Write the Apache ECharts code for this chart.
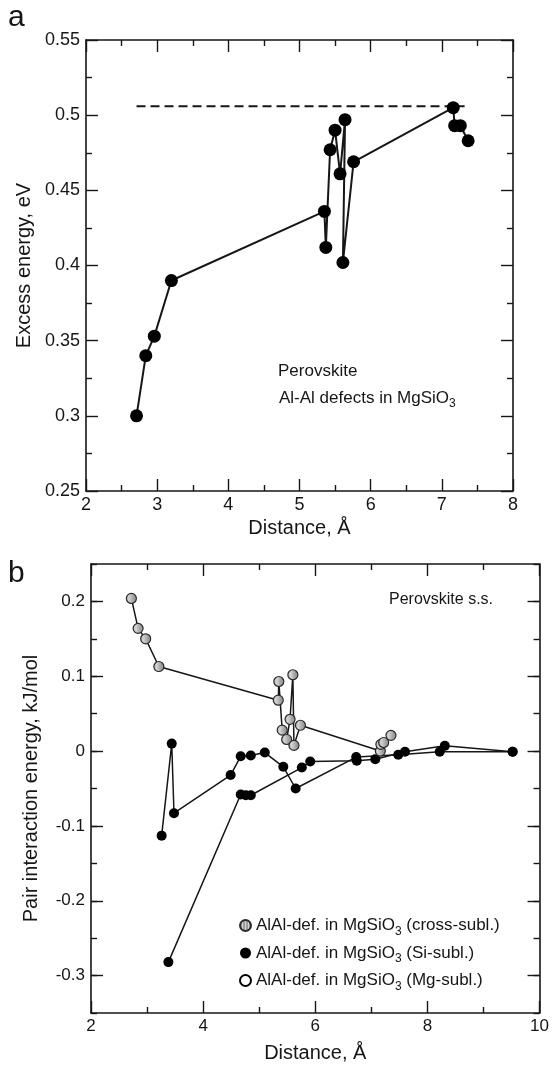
<!DOCTYPE html>
<html>
<head>
<meta charset="utf-8">
<script src="https://cdn.jsdelivr.net/npm/echarts@6/dist/echarts.min.js"></script>
<style>
  html, body { margin: 0; padding: 0; background: #fff; }
  #chart { width: 552px; height: 1070px; }
</style>
</head>
<body>
<div id="chart"></div>
<script>
// ---- Panel a: excess energy of Al-Al defect pairs vs. separation ----
const distA   = [2.71, 2.84, 2.96, 3.20, 5.35, 5.37, 5.43, 5.50, 5.57, 5.64, 5.61, 5.76, 7.16, 7.18, 7.26, 7.37];
const energyA = [0.300, 0.340, 0.353, 0.390, 0.436, 0.412, 0.477, 0.490, 0.461, 0.497, 0.402, 0.469, 0.505, 0.493, 0.493, 0.483];
// dashed level (random-distribution limit)
const levelX = [2.71, 7.32];
const levelY = 0.506;

// ---- Panel b: pair interaction energies ----
const crossDist = [2.72, 2.84, 2.975, 3.21, 5.34, 5.35, 5.41, 5.49, 5.55, 5.60, 5.62, 5.735, 7.16, 7.17, 7.22, 7.35];
const crossE    = [0.204, 0.164, 0.150, 0.113, 0.068, 0.093, 0.028, 0.0155, 0.0425, 0.102, 0.0076, 0.0345, 0.000, 0.009, 0.0115, 0.021];

const siDist1 = [3.26, 3.44, 3.48, 4.49, 4.67, 4.85, 5.10, 5.43, 5.65, 6.73, 7.48, 8.22, 9.52];
const siE1    = [-0.113, 0.010, -0.083, -0.032, -0.007, -0.006, -0.002, -0.021, -0.050, -0.008, -0.005, -0.001, -0.001];
const siDist2 = [3.38, 4.67, 4.76, 4.85, 5.76, 5.91, 6.74, 7.07, 7.60, 8.31, 9.52];
const siE2    = [-0.282, -0.058, -0.059, -0.059, -0.022, -0.014, -0.013, -0.011, -0.001, 0.007, -0.001];

const yTicksB = [-0.3, -0.2, -0.1, 0, 0.1, 0.2];

const seriesNames = [
  ['AlAl-def. in MgSiO', '3', ' (cross-subl.)'],
  ['AlAl-def. in MgSiO', '3', ' (Si-subl.)'],
  ['AlAl-def. in MgSiO', '3', ' (Mg-subl.)']
];
const fullName = n => n.join('');

const FONT = '"Liberation Sans", Arial, Helvetica, sans-serif';
const INK = '#161616';

const zip = (xs, ys) => xs.map((x, i) => [x, ys[i]]);

// vertical-hatch fill for the cross-sublattice markers
function hatchPattern() {
  const c = document.createElement('canvas');
  c.width = 3; c.height = 3;
  const g = c.getContext('2d');
  g.fillStyle = '#9c9c9c'; g.fillRect(0, 0, 3, 3);
  g.fillStyle = '#d4d4d4'; g.fillRect(2, 0, 1, 3);
  return { image: c, repeat: 'repeat' };
}

function axis(o) {
  return {
    type: 'value',
    gridIndex: o.grid,
    position: o.position,
    min: o.min, max: o.max, interval: o.interval,
    splitLine: { show: false },
    minorSplitLine: { show: false },
    axisLine: { show: o.line !== false, onZero: false, lineStyle: { color: INK, width: 1.6 } },
    axisTick: Object.assign({ show: true, inside: true, length: o.tickLen || 12, lineStyle: { color: INK, width: 1.4 } },
      o.tickValues ? { customValues: o.tickValues } : {}),
    minorTick: { show: !!o.minor, splitNumber: o.minor || 2, length: 6, lineStyle: { color: INK, width: 1.4 } },
    axisLabel: Object.assign({ show: !!o.labels, color: INK, fontFamily: FONT, fontSize: o.fontSize || 18, margin: o.margin || 6 },
      o.labelValues ? { customValues: o.labelValues } : {}),
    name: o.name || '',
    nameLocation: 'middle',
    nameGap: o.nameGap || 30,
    nameTextStyle: { color: INK, fontFamily: FONT, fontSize: o.nameSize || 20 },
    z: 5
  };
}

const chart = echarts.init(document.getElementById('chart'), null, { renderer: 'canvas' });
const hatch = hatchPattern();

chart.setOption({
  backgroundColor: '#ffffff',
  animation: false,
  grid: [
    { left: 86, top: 40, width: 427, height: 451 },
    { left: 91, top: 564, width: 451, height: 449 }
  ],
  xAxis: [
    axis({ grid: 0, position: 'bottom', min: 2, max: 8, interval: 1, minor: 2, labels: true, margin: 5,
           name: 'Distance, Å', nameGap: 27 }),
    axis({ grid: 0, position: 'top', min: 2, max: 8, interval: 1, minor: 2 }),
    axis({ grid: 1, position: 'bottom', min: 2, max: 10, interval: 2, minor: 2, labels: true, margin: 5,
           fontSize: 17, name: 'Distance, Å', nameGap: 30 }),
    axis({ grid: 1, position: 'top', min: 2, max: 10, interval: 2, minor: 2 })
  ],
  yAxis: [
    axis({ grid: 0, position: 'left', min: 0.25, max: 0.55, interval: 0.05, minor: 2, labels: true,
           name: 'Excess energy, eV', nameGap: 52 }),
    axis({ grid: 0, position: 'right', min: 0.25, max: 0.55, interval: 0.05, minor: 2 }),
    axis({ grid: 1, position: 'left', min: -0.35, max: 0.25, interval: 0.05, labels: true, fontSize: 17,
           tickValues: yTicksB, labelValues: yTicksB,
           name: 'Pair interaction energy, kJ/mol', nameGap: 50 }),
    axis({ grid: 1, position: 'left', min: -0.35, max: 0.25, interval: 0.05, tickLen: 6, line: false }),
    axis({ grid: 1, position: 'right', min: -0.35, max: 0.25, interval: 0.05, tickValues: yTicksB }),
    axis({ grid: 1, position: 'right', min: -0.35, max: 0.25, interval: 0.05, tickLen: 6, line: false })
  ],
  legend: {
    orient: 'vertical',
    left: 234,
    top: 912,
    itemGap: 7,
    itemWidth: 11,
    itemHeight: 11,
    icon: 'circle',
    data: seriesNames.map(fullName),
    formatter: name => {
      const n = seriesNames.find(s => fullName(s) === name);
      return '{t|' + n[0] + '}{s|' + n[1] + '}{t|' + n[2] + '}';
    },
    textStyle: {
      color: INK, fontFamily: FONT, fontSize: 17,
      rich: {
        t: { fontFamily: FONT, fontSize: 17, color: INK },
        s: { fontFamily: FONT, fontSize: 12, color: INK, padding: [12, 0, 0, 0] }
      }
    }
  },
  series: [
    {
      type: 'line', name: 'level', xAxisIndex: 0, yAxisIndex: 0,
      data: levelX.map(x => [x, levelY]),
      symbol: 'none', silent: true,
      lineStyle: { color: INK, width: 2, type: [9, 5] }
    },
    {
      type: 'line', name: 'Al-Al', xAxisIndex: 0, yAxisIndex: 0,
      data: zip(distA, energyA),
      symbol: 'circle', symbolSize: 13,
      itemStyle: { color: '#000' },
      lineStyle: { color: INK, width: 2 }
    },
    {
      type: 'line', name: fullName(seriesNames[1]), xAxisIndex: 2, yAxisIndex: 2,
      data: zip(siDist1, siE1),
      symbol: 'circle', symbolSize: 10,
      itemStyle: { color: '#000' },
      lineStyle: { color: INK, width: 1.5 }
    },
    {
      type: 'line', name: fullName(seriesNames[1]), xAxisIndex: 2, yAxisIndex: 2,
      data: zip(siDist2, siE2),
      symbol: 'circle', symbolSize: 10,
      itemStyle: { color: '#000' },
      lineStyle: { color: INK, width: 1.5 }
    },
    {
      type: 'line', name: fullName(seriesNames[0]), xAxisIndex: 2, yAxisIndex: 2,
      data: zip(crossDist, crossE),
      symbol: 'circle', symbolSize: 10,
      itemStyle: { color: hatch, borderColor: '#2a2a2a', borderWidth: 1.2 },
      lineStyle: { color: INK, width: 1.5 },
      z: 4
    },
    {
      type: 'line', name: fullName(seriesNames[2]), xAxisIndex: 2, yAxisIndex: 2,
      data: [],
      symbol: 'circle', symbolSize: 10,
      itemStyle: { color: '#ffffff', borderColor: '#000', borderWidth: 1.2 },
      lineStyle: { color: INK, width: 1.5 }
    }
  ],
  graphic: [
    { type: 'text', x: 8, y: 18, style: { text: 'a', font: '30px ' + FONT, fill: INK, verticalAlign: 'middle' } },
    { type: 'text', x: 8, y: 574, style: { text: 'b', font: '30px ' + FONT, fill: INK, verticalAlign: 'middle' } },
    { type: 'text', x: 278, y: 371, style: { text: 'Perovskite', font: '17px ' + FONT, fill: INK, verticalAlign: 'middle' } },
    { type: 'text', x: 279, y: 398, style: {
        text: '{t|Al-Al defects in MgSiO}{s|3}', verticalAlign: 'middle',
        rich: {
          t: { fontFamily: FONT, fontSize: 17, fill: INK },
          s: { fontFamily: FONT, fontSize: 12, fill: INK, padding: [12, 0, 0, 0] }
        }
    } },
    { type: 'text', x: 389, y: 600, style: { text: 'Perovskite s.s.', font: '16px ' + FONT, fill: INK, verticalAlign: 'middle' } }
  ]
});
</script>
</body>
</html>
